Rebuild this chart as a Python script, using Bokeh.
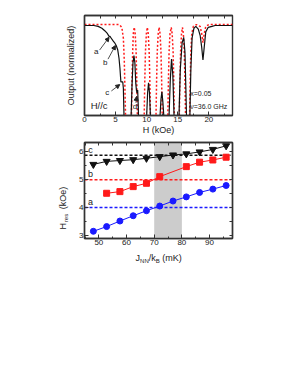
import math
from bokeh.plotting import figure
from bokeh.layouts import column, row
from bokeh.models import (FixedTicker, LinearAxis, BoxAnnotation, Label, Arrow, NormalHead)
from bokeh.core.properties import value
from bokeh.embed import file_html
from bokeh.resources import INLINE

# ---------------- data: top panel (normalized output vs H) ----------------
exp_H = [0, 1.5, 2.2, 2.8, 3.3, 3.7, 3.95, 4.1, 4.3, 4.6, 4.85, 5.1, 5.35, 5.55, 5.7, 5.8, 5.85,
         6.15, 6.25, 6.35, 6.5, 7.3, 7.5, 7.65, 7.8, 7.95, 8.1, 8.25, 8.35, 8.45, 8.55, 8.65, 8.8,
         9.8, 10.0, 10.15, 10.3, 10.45, 10.6, 10.8, 11.9, 12.15, 12.3, 12.45, 12.6, 12.75, 12.9,
         13.4, 13.6, 13.8, 14.0, 14.2, 14.4, 14.6, 15.0, 15.2, 15.4, 15.7, 15.95, 16.15, 16.3,
         16.4, 16.5, 16.8, 16.95, 17.1, 17.3, 17.6, 17.9, 18.3, 18.6, 18.85, 19.05, 19.25, 19.5,
         19.9, 20.5, 21.0, 23.8]
exp_out = [0.99, 0.99, 0.98, 0.96, 0.93, 0.90, 0.87, 0.87, 0.85, 0.82, 0.80, 0.77, 0.72, 0.63,
           0.52, 0.42, 0.37, 0.37, 0.30, 0.0, -0.5, -0.5, 0.0, 0.35, 0.58, 0.66, 0.58, 0.35, 0.28,
           0.25, 0.28, 0.10, -0.5, -0.5, 0.0, 0.25, 0.36, 0.25, 0.0, -0.5, -0.5, 0.0, 0.18, 0.26,
           0.15, 0.0, -0.5, -0.5, 0.0, 0.40, 0.62, 0.45, 0.0, -0.5, -0.5, 0.0, 0.50, 0.80, 0.86,
           0.70, 0.30, 0.0, -0.5, -0.5, 0.0, 0.50, 0.85, 0.96, 0.98, 0.95, 0.88, 0.75, 0.61, 0.75,
           0.92, 0.97, 0.98, 0.99, 0.99]

sim_H = [0, 5.6, 6.0, 6.25, 6.4, 6.5, 6.6, 6.8, 7.1, 7.4, 7.55, 7.65, 7.75, 7.85, 8.0, 8.15, 8.3,
         8.4, 8.5, 8.8, 9.1, 9.4, 9.6, 9.7, 9.8, 9.95, 10.1, 10.25, 10.4, 10.5, 10.6, 10.85, 11.1,
         11.35, 11.5, 11.6, 11.7, 11.85, 12.0, 12.15, 12.3, 12.4, 12.5, 12.75, 13.0, 13.25, 13.4,
         13.5, 13.6, 13.75, 13.95, 14.1, 14.25, 14.35, 14.45, 14.7, 14.9, 15.1, 15.25, 15.35,
         15.45, 15.6, 15.75, 15.9, 16.05, 16.15, 16.25, 16.45, 16.6, 16.75, 16.9, 17.0, 17.1,
         17.25, 17.5, 18.0, 18.6, 18.85, 19.05, 19.25, 19.5, 20.0, 23.8]
sim_out = [1.0, 1.0, 0.97, 0.85, 0.6, 0.3, 0.0, -0.6, -0.9, -0.6, 0.0, 0.4, 0.7, 0.9, 0.97, 0.9,
           0.7, 0.4, 0.0, -0.6, -0.9, -0.6, 0.0, 0.4, 0.7, 0.9, 0.97, 0.9, 0.7, 0.4, 0.0, -0.6,
           -0.9, -0.6, 0.0, 0.4, 0.7, 0.9, 0.97, 0.9, 0.7, 0.4, 0.0, -0.6, -0.9, -0.6, 0.0, 0.4,
           0.7, 0.9, 0.97, 0.9, 0.7, 0.4, 0.0, -0.6, -0.9, -0.6, 0.0, 0.4, 0.7, 0.9, 0.97, 0.9,
           0.7, 0.4, 0.0, -0.6, -0.9, -0.6, 0.0, 0.4, 0.7, 0.9, 0.98, 1.0, 0.98, 0.9, 0.8, 0.9,
           0.98, 1.0, 1.0]

top_xticks = [0, 5, 10, 15, 20]
top_minor = [2.5, 7.5, 12.5, 17.5, 22.5]

# ---------------- data: bottom panel (H_res vs J_NN/k_B) ----------------
J_all = [48.0, 52.8, 57.6, 62.4, 67.2, 72.0, 76.8, 81.6, 86.4, 91.2, 96.0]
H_c = [5.55, 5.66, 5.69, 5.72, 5.77, 5.83, 5.89, 5.93, 6.00, 6.09, 6.22]
J_b = [52.8, 57.6, 62.4, 67.2, 72.0, 81.6, 86.4, 91.2, 96.0]
H_b = [4.51, 4.57, 4.75, 4.87, 5.11, 5.47, 5.63, 5.71, 5.81]
H_a = [3.14, 3.31, 3.51, 3.70, 3.88, 4.05, 4.23, 4.38, 4.54, 4.66, 4.79]
level_c, level_b, level_a = 5.88, 5.0, 4.0
band = (70, 80)
bot_xticks = [50, 60, 70, 80, 90]
bot_xminor = [45, 55, 65, 75, 85, 95]
bot_yticks = [3, 4, 5, 6]
bot_yminor = [3.5, 4.5, 5.5]

FONT = "Liberation Sans"
RED = "#ff1a1a"
BLUE = "#1a1aff"
BLK = "#111111"
AX = "#333333"
TXT = "#222222"

W = 283          # total width
LB = 84          # left border to the plot frames
RB = 51          # right border


def style_axis(ax):
    ax.axis_line_width = 1.4
    ax.axis_line_color = AX
    ax.major_tick_in = 4
    ax.major_tick_out = 0
    ax.minor_tick_in = 2
    ax.minor_tick_out = 0
    ax.major_tick_line_color = AX
    ax.minor_tick_line_color = AX
    ax.major_label_text_font = FONT
    ax.major_label_text_font_size = "8px"
    ax.major_label_text_color = TXT
    ax.axis_label_text_font = FONT
    ax.axis_label_text_font_size = "9px"
    ax.axis_label_text_font_style = "normal"
    ax.axis_label_text_color = TXT
    ax.major_label_standoff = 1
    ax.axis_label_standoff = 0


def mirror_axis(ticks, minor):
    ax = LinearAxis(ticker=FixedTicker(ticks=[], minor_ticks=ticks + minor))
    ax.axis_line_width = 1.4
    ax.axis_line_color = AX
    ax.major_tick_in = 0
    ax.major_tick_out = 0
    ax.minor_tick_in = 3
    ax.minor_tick_out = 0
    ax.minor_tick_line_color = AX
    ax.major_label_standoff = 0
    return ax


def clean(p):
    p.xgrid.visible = False
    p.ygrid.visible = False
    p.outline_line_color = AX
    p.outline_line_width = 1.4
    p.background_fill_color = "white"
    p.border_fill_color = "white"


# ---------------- top figure ----------------
p1 = figure(width=W, height=140, x_range=(0, 23.8), y_range=(0, 1.1),
            output_backend="svg", toolbar_location=None,
            min_border_left=LB, min_border_right=RB, min_border_top=15, min_border_bottom=25)
clean(p1)
p1.line(sim_H, sim_out, line_color=RED, line_width=1.5, line_dash="2 2")
p1.line(exp_H, exp_out, line_color=BLK, line_width=1.2)

p1.xaxis.ticker = FixedTicker(ticks=top_xticks, minor_ticks=top_minor)
p1.yaxis.ticker = FixedTicker(ticks=[], minor_ticks=[])
for ax in p1.axis:
    style_axis(ax)
p1.xaxis.axis_label = "H (kOe)"
p1.yaxis.axis_label = "Output (normalized)"
p1.yaxis.axis_label_standoff = 9
p1.add_layout(mirror_axis(top_xticks, top_minor), "above")

ann_text = [("a", 1.9, 0.70), ("b", 3.35, 0.58), ("c", 3.67, 0.25), ("d", 8.1, 0.10)]
for t, x, y in ann_text:
    p1.add_layout(Label(x=x, y=y, text=t, text_font=FONT, text_font_size="8px",
                        text_align="center", text_baseline="middle", text_color=TXT))
arrows = [(2.43, 0.72, 3.95, 0.86), (3.78, 0.62, 4.97, 0.77),
          (4.32, 0.27, 5.67, 0.34), (8.27, 0.14, 8.38, 0.21)]
for x0, y0, x1, y1 in arrows:
    p1.add_layout(Arrow(x_start=x0, y_start=y0, x_end=x1, y_end=y1, line_width=0.8,
                        line_color=TXT,
                        end=NormalHead(size=4, fill_color=TXT, line_color=TXT)))

p1.add_layout(Label(x=1.0, y=0.11, text="H//c", text_font=FONT, text_font_size="9.5px",
                    text_baseline="middle", text_color=TXT))
p1.add_layout(Label(x=17.0, y=0.24, text="x=0.05", text_font=FONT, text_font_size="7px",
                    text_baseline="middle", text_color=TXT))
p1.add_layout(Label(x=17.0, y=0.10, text="\u03bd=36.0 GHz", text_font=FONT,
                    text_font_size="7px", text_baseline="middle", text_color=TXT))

# ---------------- bottom figure ----------------
YW = 70
p2 = figure(width=W - YW, height=110, x_range=(44.8, 98.3), y_range=(2.88, 6.34),
            output_backend="svg", toolbar_location=None,
            min_border_left=LB - YW, min_border_right=RB, min_border_top=0, min_border_bottom=12)
clean(p2)
p2.add_layout(BoxAnnotation(left=band[0], right=band[1], fill_color="#cccccc", fill_alpha=1.0,
                            line_color=None, level="underlay"))

xmin, xmax = 44.8, 97.6
for lvl, col in ((level_c, BLK), (level_b, RED), (level_a, BLUE)):
    p2.line([xmin, xmax], [lvl, lvl], line_color=col, line_width=1.5, line_dash="3 2")

p2.line(J_all, H_c, line_color=BLK, line_width=1)
p2.scatter(J_all, H_c, marker="inverted_triangle", size=7, fill_color=BLK, line_color=BLK)
p2.line(J_b, H_b, line_color=RED, line_width=1)
p2.scatter(J_b, H_b, marker="square", size=6, fill_color=RED, line_color=RED)
p2.line(J_all, H_a, line_color=BLUE, line_width=1)
p2.scatter(J_all, H_a, marker="circle", size=6, fill_color=BLUE, line_color=BLUE)

for t, y in (("c", 6.07), ("b", 5.19), ("a", 4.19)):
    p2.add_layout(Label(x=47.0, y=y, text=t, text_font=FONT, text_font_size="9px",
                        text_align="center", text_baseline="middle", text_color=TXT))

p2.xaxis.ticker = FixedTicker(ticks=bot_xticks, minor_ticks=bot_xminor)
p2.yaxis.ticker = FixedTicker(ticks=bot_yticks, minor_ticks=bot_yminor)
for ax in p2.axis:
    style_axis(ax)
p2.add_layout(mirror_axis(bot_xticks, bot_xminor), "above")
p2.add_layout(mirror_axis(bot_yticks, bot_yminor), "right")

# y label panel (H_res (kOe)) to the left of the bottom plot
py = figure(width=YW, height=110, x_range=(0, YW), y_range=p2.y_range,
            output_backend="svg", toolbar_location=None, x_axis_type=None, y_axis_type=None,
            min_border_left=0, min_border_right=0, min_border_top=2, min_border_bottom=12)
py.outline_line_color = None
py.xgrid.visible = False
py.ygrid.visible = False
yl_text = ["H", "res", "(kOe)"]
yl_x = [62.7, 65.7, 62.7]
yl_y = [3.20, 3.47, 3.93]
yl_fs = ["9px", "6px", "9px"]
for t, x, y, fs in zip(yl_text, yl_x, yl_y, yl_fs):
    py.text(x=[x], y=[y], text=[t], angle=math.pi / 2, text_font=value(FONT),
            text_font_size=fs, text_baseline="middle", text_align="left", text_color=TXT)

# x label panel (J_NN/k_B (mK)) below the bottom plot
px = figure(width=W, height=16, x_range=p2.x_range, y_range=(0, 16),
            output_backend="svg", toolbar_location=None, x_axis_type=None, y_axis_type=None,
            min_border_left=LB, min_border_right=RB, min_border_top=0, min_border_bottom=0)
px.outline_line_color = None
px.xgrid.visible = False
px.ygrid.visible = False
xl_text = ["J", "NN", "/k", "B", "(mK)"]
xl_x = [63.25, 64.9, 68.05, 70.6, 72.95]
xl_y = [9.0, 6.0, 9.0, 6.0, 9.0]
xl_fs = ["9px", "6px", "9px", "6px", "9px"]
for t, x, y, fs in zip(xl_text, xl_x, xl_y, xl_fs):
    px.text(x=[x], y=[y], text=[t], text_font=value(FONT), text_font_size=fs,
            text_baseline="middle", text_align="left", text_color=TXT)

layout = column(p1, row(py, p2), px)
open("out.html", "w").write(file_html(layout, INLINE))
